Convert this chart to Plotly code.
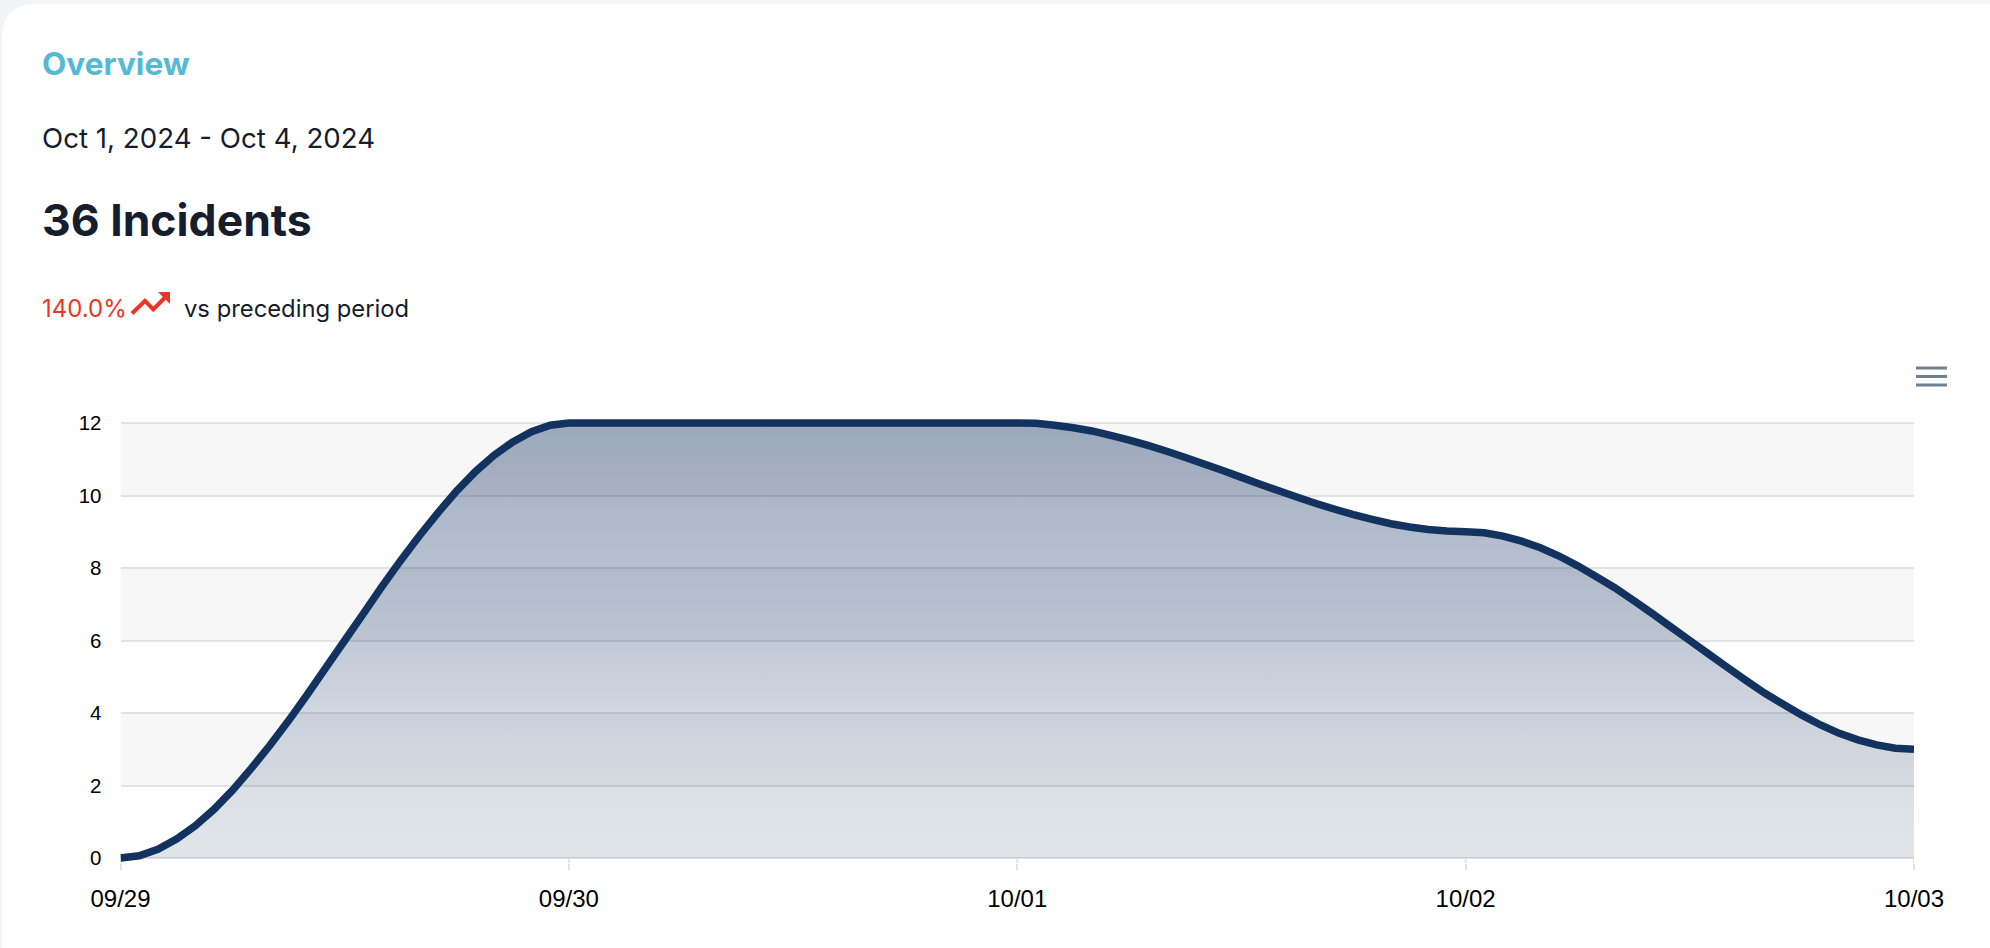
import plotly.graph_objects as go

W, H = 1990, 948

# ---- data (hourly) ----
times = [f"2024-{d} {h:02d}:00" for d in ("09-29", "09-30", "10-01", "10-02") for h in range(24)] + ["2024-10-03 00:00"]
day1 = [0, .06, .24, .52, .89, 1.34, 1.87, 2.47, 3.11, 3.79, 4.51, 5.26, 6, 6.74, 7.49, 8.21, 8.89, 9.53, 10.13, 10.66, 11.11, 11.48, 11.76, 11.94]
day2 = [12] * 24
day3 = [12, 11.99, 11.94, 11.87, 11.78, 11.66, 11.53, 11.38, 11.22, 11.05, 10.87, 10.69, 10.5, 10.31, 10.13, 9.95, 9.78, 9.62, 9.47, 9.34, 9.22, 9.13, 9.06, 9.02]
day4 = [9, 8.97, 8.88, 8.74, 8.56, 8.33, 8.06, 7.76, 7.45, 7.10, 6.74, 6.37, 6.0, 5.63, 5.26, 4.90, 4.55, 4.24, 3.94, 3.67, 3.44, 3.26, 3.12, 3.03]
last = [3]
incidents = day1 + day2 + day3 + day4 + last
x_ticks = ["2024-09-29", "2024-09-30", "2024-10-01", "2024-10-02", "2024-10-03"]
x_labels = ["09/29", "09/30", "10/01", "10/02", "10/03"]
y_ticks = [0, 2, 4, 6, 8, 10, 12]
bands = [(2, 4), (6, 8), (10, 12)]

title_text = "Overview"
date_text = "Oct 1, 2024 - Oct 4, 2024"
count_text = "36 Incidents"
change_text = "140.0%"
compare_text = "vs preceding period"

# ---- layout geometry ----
PL, PR, PT, PB = 120.5, 1914, 423, 858
UNIT = (PB - PT) / 12
PAD = 0.15                      # room so the thick line is not clipped at 0 and 12
fx = lambda v: v / W
fy = lambda v: 1 - v / H
GRID = "#e2e2e2"
NAVY = "#12325f"
RED = "#ee3524"
INK = "#161d2c"

fig = go.Figure()
fig.add_trace(go.Scatter(
    x=times, y=incidents, mode="lines",
    line=dict(color=NAVY, width=7.5, shape="linear", simplify=False),
    fill="tozeroy",
    fillgradient=dict(type="vertical", colorscale=[
        [0, "rgba(18,50,99,0.13)"], [0.25, "rgba(18,50,99,0.165)"],
        [0.5, "rgba(18,50,99,0.26)"], [1, "rgba(18,50,99,0.40)"]]),
    hoverinfo="skip", showlegend=False,
))

shapes = []
r = 34
shapes.append(dict(
    type="path", xref="paper", yref="paper", layer="below", line_width=0, fillcolor="white",
    path=(f"M {fx(2)} {fy(H)} L {fx(2)} {fy(4 + r)} Q {fx(2)} {fy(4)} {fx(2 + r)} {fy(4)} "
          f"L 1 {fy(4)} L 1 {fy(H)} Z"),
))
for lo, hi in bands:
    shapes.append(dict(type="rect", xref="x domain", yref="y", x0=0, x1=1, y0=lo, y1=hi,
                       fillcolor="#f7f7f7", line_width=0, layer="below"))
for t in x_ticks:
    shapes.append(dict(type="line", xref="x", yref="y", x0=t, x1=t, y0=0, y1=-PAD,
                       line=dict(color=GRID, width=2), layer="below"))
for yy in (368, 376.5, 385):
    shapes.append(dict(type="line", xref="paper", yref="paper", x0=fx(1916), x1=fx(1947), y0=fy(yy), y1=fy(yy),
                       line=dict(color="#6e8192", width=3)))
pts = [(132, 313.5), (145, 300.8), (153.3, 309.3), (166, 296.5)]
shapes.append(dict(type="path", xref="paper", yref="paper", line=dict(color=RED, width=4),
                   path="M " + " L ".join(f"{fx(a)} {fy(b)}" for a, b in pts)))
head = [(158, 292), (170, 292), (170, 304)]
shapes.append(dict(type="path", xref="paper", yref="paper", line_width=0, fillcolor=RED,
                   path="M " + " L ".join(f"{fx(a)} {fy(b)}" for a, b in head) + " Z"))

def note(text, x, y, size, color, family="Inter", bold=False):
    return dict(text=f"<b>{text}</b>" if bold else text, x=fx(x), y=fy(y), xref="paper", yref="paper",
                xanchor="left", yanchor="middle", showarrow=False, align="left", borderpad=0, borderwidth=0,
                font=dict(family=family, size=size, color=color))

fig.update_layout(
    width=W, height=H,
    margin=dict(l=0, r=0, t=0, b=0, autoexpand=False),
    paper_bgcolor="#f2f4f7", plot_bgcolor="rgba(0,0,0,0)",
    shapes=shapes,
    annotations=[
        note(title_text, 42, 63, 31.6, "#55b9d3", bold=True),
        note(date_text, 42, 138, 27.7, INK),
        note(count_text, 42, 220, 44.5, INK, bold=True),
        note(change_text, 42, 309, 24, RED),
        note(compare_text, 184, 309, 23.8, INK),
    ],
    xaxis=dict(domain=[fx(PL), fx(PR)], type="date", range=[x_ticks[0], x_ticks[-1]],
               tickmode="array", tickvals=x_ticks, ticktext=x_labels,
               showgrid=False, zeroline=False, showline=False,
               ticks="outside", ticklen=6, tickwidth=2, tickcolor=GRID, ticklabelstandoff=8,
               tickfont=dict(family="Liberation Sans", size=24, color="#000000")),
    yaxis=dict(domain=[fy(PB + PAD * UNIT), fy(PT - PAD * UNIT)], range=[-PAD, 12 + PAD], tickmode="array", tickvals=y_ticks,
               ticktext=[str(v) for v in y_ticks],
               showgrid=True, gridcolor=GRID, gridwidth=2, zeroline=False, showline=False,
               ticks="", ticklabelstandoff=18,
               tickfont=dict(family="Liberation Sans", size=20.5, color="#000000")),
)

fig.write_html("out.html", config=dict(displayModeBar=False),
               post_script="document.body.style.margin='0';document.body.style.overflow='hidden';")
